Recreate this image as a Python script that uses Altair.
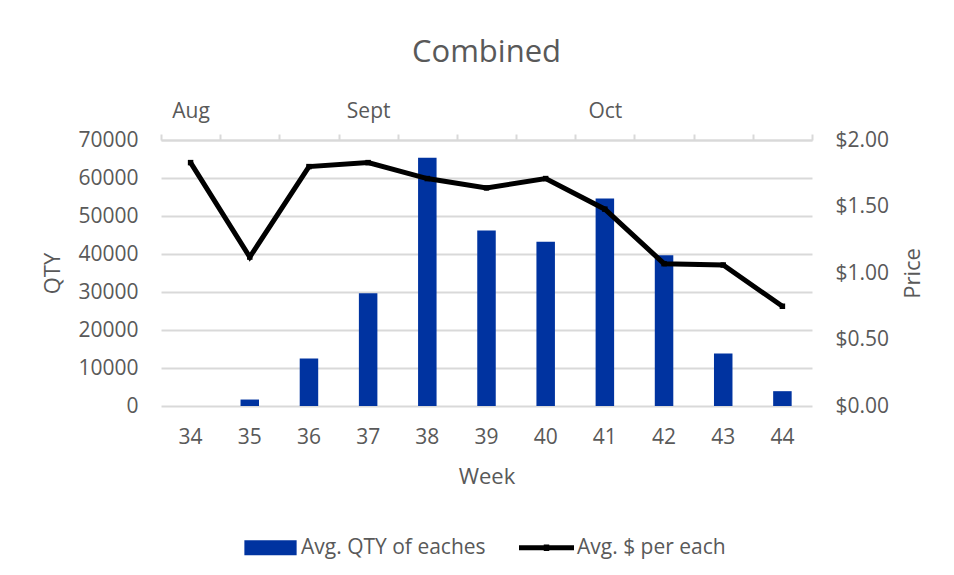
import altair as alt
import pandas as pd

weeks = [34, 35, 36, 37, 38, 39, 40, 41, 42, 43, 44]
qty = [0, 1700, 12500, 29700, 65300, 46200, 43200, 54600, 39700, 13800, 3900]
price = [1.83, 1.12, 1.80, 1.83, 1.71, 1.64, 1.71, 1.48, 1.07, 1.06, 0.75]
month_weeks = [34, 37, 41]
month_names = ["Aug", "Sept", "Oct"]
series_names = ["Avg. QTY of eaches", "Avg. $ per each"]
series_colors = ["#0033A0", "#000000"]

FONT = "Open Sans"
TXT = "#595959"
GRID = "#d9d9d9"

df = pd.DataFrame({"week": weeks, "qty": qty, "price": price,
                   "series": series_names[1]})

month_expr = " : ".join(
    f"datum.value == {w} ? '{m}'" for w, m in zip(month_weeks, month_names)
) + " : ''"

xscale = alt.Scale(paddingInner=0, paddingOuter=0)

bars = alt.Chart(df).mark_bar(size=18.5, color=series_colors[0]).encode(
    x=alt.X("week:O", scale=xscale, sort=weeks,
            axis=alt.Axis(orient="bottom", title="Week", labelAngle=0,
                          ticks=False, domain=False, labelPadding=20,
                          titlePadding=19)),
    y=alt.Y("qty:Q", scale=alt.Scale(domain=[0, 70000], nice=False),
            axis=alt.Axis(title="QTY", values=list(range(0, 70001, 10000)),
                          format="d", ticks=False, domain=False, grid=True,
                          gridColor=GRID, gridWidth=2, labelPadding=23,
                          titlePadding=13)),
)

line = alt.Chart(df).mark_line(
    color="black", strokeWidth=5,
    point=alt.OverlayMarkDef(shape="square", size=30, filled=True, color="black", opacity=1),
).encode(
    x=alt.X("week:O", scale=xscale, sort=weeks,
            axis=alt.Axis(orient="top", title=None, labelExpr=month_expr,
                          labelAngle=0, tickBand="extent", ticks=True, tickSize=6,
                          tickColor=GRID, tickWidth=2, domain=True, domainColor=GRID,
                          domainWidth=2, labelPadding=13)),
    y=alt.Y("price:Q", scale=alt.Scale(domain=[0, 2], nice=False),
            axis=alt.Axis(orient="right", title="Price", values=[0, 0.5, 1, 1.5, 2],
                          format="$.2f", ticks=False, domain=False, grid=False,
                          labelPadding=23, titlePadding=14, titleAngle=-90,
                          titleBaseline="top")),
)

rect_path = "M-0.95,-0.27H0.95V0.27H-0.95Z"
line_path = "M-1,-0.09H1V0.09H-1Z M-0.1,-0.12H0.1V0.12H-0.1Z"

leg = alt.Legend(title=None, orient="none", direction="horizontal",
                 legendX=82, legendY=380,
                 symbolSize=3025, symbolOpacity=1, symbolStrokeWidth=0,
                 labelFontSize=21, labelFont=FONT, labelLimit=400,
                 labelColor=TXT, labelOffset=3, columnPadding=33)

legend_layer = alt.Chart(df).mark_point(filled=True, opacity=0).encode(
    x=alt.X("week:O", scale=xscale, sort=weeks, axis=None),
    y=alt.Y("price:Q", scale=alt.Scale(domain=[0, 2], nice=False), axis=None),
    color=alt.Color("series:N",
                    scale=alt.Scale(domain=series_names, range=series_colors),
                    legend=leg),
    shape=alt.Shape("series:N",
                    scale=alt.Scale(domain=series_names, range=[rect_path, line_path]),
                    legend=leg),
)

chart = alt.layer(bars, line, legend_layer).resolve_scale(
    y="independent"
).resolve_axis(x="independent").properties(
    width=651, height=266,
    title=alt.TitleParams("Combined", fontSize=31, font=FONT, color=TXT,
                          fontWeight="normal", anchor="middle", offset=31),
    autosize=alt.AutoSizeParams(type="none"),
    padding={"left": 153, "top": 132, "right": 120, "bottom": 170},
).configure_view(stroke=None).configure_axis(
    labelFont=FONT, titleFont=FONT, labelFontSize=21, titleFontSize=22,
    labelColor=TXT, titleColor=TXT, titleFontWeight="normal",
)

chart.save("out.html", embed_options={"renderer": "svg", "actions": False})
